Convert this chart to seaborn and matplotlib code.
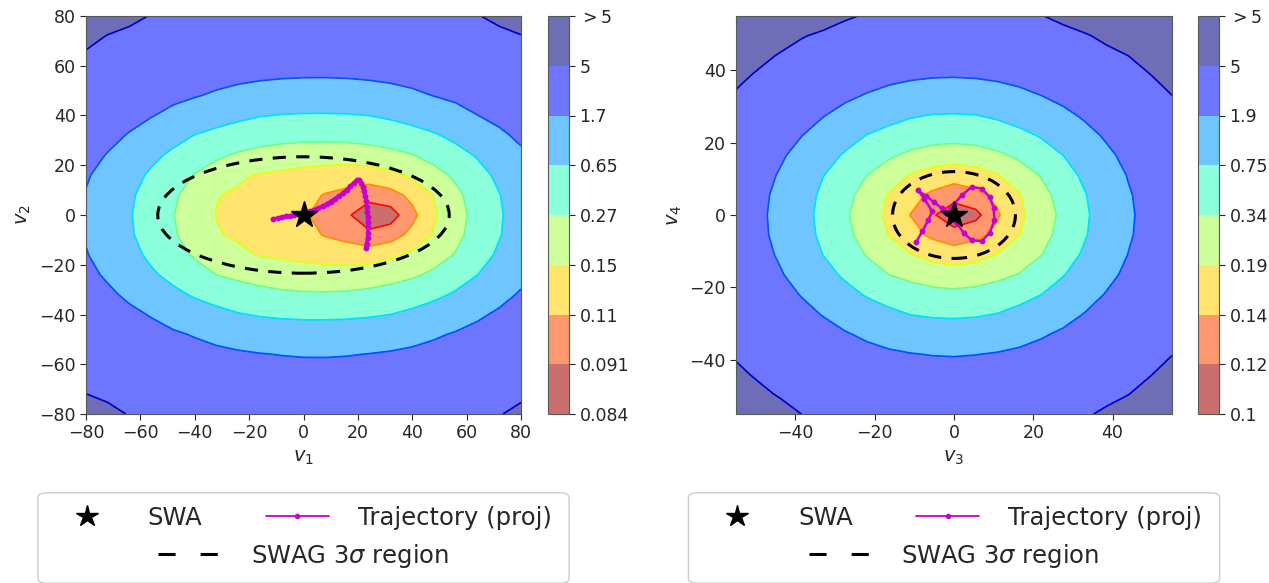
import matplotlib
matplotlib.use("Agg")
import matplotlib.pyplot as plt
import numpy as np
import seaborn as sns
from matplotlib.lines import Line2D
from matplotlib.patches import Ellipse, FancyBboxPatch
from matplotlib.transforms import Bbox

# ---- panel 1 (v1, v2) ----
cbar_labels1 = ["0.084", "0.091", "0.11", "0.15", "0.27", "0.65", "1.7", "5", "$>5$"]
# contour boundaries, inner -> outer (one per colour step)
bound1_cx = [27, 22, 8, 6.4, 5.2, 5, 4]
bound1_cy = [-0.5, 0, 0.3, -0.9, -0.7, -1, -2]
bound1_ax = [10, 20.5, 41.8, 54, 68.3, 87, 124]
bound1_ay = [8, 13.5, 21, 30.3, 41.8, 56, 95]
bound1_pw = [1.2, 2, 2.2, 2.3, 2.2, 2, 2]
traj1_x = [-11.2, -9.5, -8, -6.5, -5, -3.5, -2, -0.5, 1, 2.5, 4, 5.5, 7, 8.5, 10,
           11.5, 13, 14.5, 16, 17.2, 18.5, 19.5, 20.5, 21.3, 21.9, 22.4, 22.8,
           23.1, 23.3, 23.5, 23.6, 23.7, 23.8, 23.8, 23.6, 23.2, 22.9]
traj1_y = [-1.6, -1.3, -1.0, -0.6, -0.3, 0.0, 0.3, 0.6, 1.0, 1.5, 2.1, 2.7, 3.5, 4.4, 5.4,
           6.5, 7.6, 8.8, 10.2, 11.6, 12.9, 13.9, 14.0, 12.9, 11.3, 9.5, 7.6,
           5.5, 3.4, 1.3, -0.8, -2.9, -5.0, -7.2, -9.4, -11.6, -13.2]
swag1 = (0, 0, 53.6, 23.4)  # centre x, centre y, half-width, half-height
lim1 = 80
ticks1 = [-80, -60, -40, -20, 0, 20, 40, 60, 80]

# ---- panel 2 (v3, v4) ----
cbar_labels2 = ["0.1", "0.12", "0.14", "0.19", "0.34", "0.75", "1.9", "5", "$>5$"]
bound2_cx = [1.2, 0.3, 0, -0.2, -0.7, -0.7, -1]
bound2_cy = [0, 0, 0.35, -0.5, -0.35, -0.5, -3]
bound2_ax = [6.1, 11.5, 18.5, 26.4, 35, 46.2, 69]
bound2_ay = [4.1, 9.7, 13.8, 20.3, 28.5, 38.5, 62]
bound2_pw = [1.2, 2, 2, 2, 2, 2, 2]
traj2_x = [-9.5, -8.0, -6.5, -5.5, -7.5, -9.1, -7.0, -5.0, -3.0, -1.0, 0.5, 2.5, 4.5,
           7.0, 9.0, 10.2, 10.0, 9.0, 7.0, 4.5, 2.0, 0.0, -2.0]
traj2_y = [-7.5, -4.5, -1.5, 1.0, 4.5, 6.8, 5.2, 3.5, 1.8, 0.0, -2.0, -5.0, -7.0,
           -7.2, -5.0, -1.5, 2.0, 5.0, 7.3, 7.8, 5.5, 3.0, 0.5]
swag2 = (0, 0, 15.5, 12)
lim2 = 55
ticks2 = [-40, -20, 0, 20, 40]

W, H = 1269, 583
# jet colours, low loss = red, high loss = navy
band_colors = [plt.cm.jet(v) for v in np.linspace(0.967, 0, 8)]
line_colors = [plt.cm.jet(v) for v in np.linspace(0.898, 0.07, 7)]
MAG = "#c800c8"

sns.set_theme(style="ticks")
plt.rcParams["font.family"] = ["DejaVu Sans"]
plt.rcParams["mathtext.fontset"] = "dejavusans"


def level_field(lim, cx, cy, sx, sy, pw, n=21):
    xs = np.linspace(-lim, lim, n)
    X, Y = np.meshgrid(xs, xs)
    R = np.array([(np.abs((X - a) / c) ** p + np.abs((Y - b) / d) ** p) ** (1 / p)
                  for a, b, c, d, p in zip(cx, cy, sx, sy, pw)])
    R = np.minimum.accumulate(R, axis=0)
    h = np.where(R[0] < 1, R[0], 0.0)
    for k in range(len(R) - 1):
        m = (R[k] >= 1) & (R[k + 1] < 1)
        h = np.where(m, (k + 1) + (R[k] - 1) / np.maximum(R[k] - R[k + 1], 1e-9), h)
    m = R[-1] >= 1
    h = np.where(m, len(R) + np.minimum((R[-1] - 1) * 4, 0.99), h)
    return xs, h


def draw_panel(ax, cax, lim, ticks, bounds, traj, swag, cbar_labels, xl, yl, traj_lw):
    xs, h = level_field(lim, *bounds)
    cf = ax.contourf(xs, xs, h, levels=np.arange(9), colors=band_colors, alpha=0.57)
    ax.contour(xs, xs, h, levels=np.arange(1, 8), colors=line_colors, linewidths=1.2)
    ax.add_patch(Ellipse((swag[0], swag[1]), 2 * swag[2], 2 * swag[3], fill=False,
                         ec="black", lw=2.2, ls=(0, (4.3, 3.4)), zorder=4))
    ax.plot(traj[0], traj[1], color=MAG, lw=traj_lw, marker="o", ms=3.2, zorder=5)
    ax.plot(0, 0, marker="*", color="black", ms=20, ls="none", zorder=6)
    ax.set_xlim(-lim, lim)
    ax.set_ylim(-lim, lim)
    ax.set_xticks(ticks)
    ax.set_yticks(ticks)
    ax.tick_params(labelsize=12.5, length=4, width=0.8)
    ax.set_xlabel(xl, fontsize=14)
    ax.set_ylabel(yl, fontsize=14)
    for s in ax.spines.values():
        s.set_linewidth(0.8)
        s.set_color("0.35")
    cb = plt.colorbar(cf, cax=cax, ticks=np.arange(9))
    cb.ax.set_yticklabels(cbar_labels)
    cb.ax.tick_params(labelsize=12.5, length=4, width=0.8)
    cb.outline.set_edgecolor("0.35")
    cb.outline.set_linewidth(0.8)


fig = plt.figure(figsize=(W / 100, H / 100), dpi=100)
ax1 = fig.add_axes([86 / W, 1 - 414 / H, 435 / W, 398 / H])
cax1 = fig.add_axes([548 / W, 1 - 414 / H, 21 / W, 398 / H])
ax2 = fig.add_axes([736 / W, 1 - 414 / H, 436 / W, 398 / H])
cax2 = fig.add_axes([1198 / W, 1 - 414 / H, 21 / W, 398 / H])

draw_panel(ax1, cax1, lim1, ticks1,
           (bound1_cx, bound1_cy, bound1_ax, bound1_ay, bound1_pw),
           (traj1_x, traj1_y), swag1, cbar_labels1, "$v_1$", "$v_2$", 2.6)
draw_panel(ax2, cax2, lim2, ticks2,
           (bound2_cx, bound2_cy, bound2_ax, bound2_ay, bound2_pw),
           (traj2_x, traj2_y), swag2, cbar_labels2, "$v_3$", "$v_4$", 1.8)

star_h = Line2D([], [], marker="*", color="black", ms=16, ls="none")
traj_h = Line2D([], [], color=MAG, lw=1.3, marker="o", ms=3)
dash_h = Line2D([], [], color="black", lw=2.2, ls=(0, (5.6, 8.2)))

legs = []
for cx in (303.5 / W, 954 / W):
    la = fig.legend([star_h, traj_h], ["SWA", "Trajectory (proj)"], ncol=2, loc="center",
                    bbox_to_anchor=(cx, 1 - 518 / H), frameon=False, fontsize=17.5,
                    handlelength=2.6, handletextpad=1.2, columnspacing=2.6, numpoints=1)
    lb = fig.legend([dash_h], [r"SWAG 3$\sigma$ region"], loc="center",
                    bbox_to_anchor=(cx, 1 - 556 / H), frameon=False, fontsize=17.5,
                    handlelength=2.6, handletextpad=1.2)
    legs.append((la, lb))

fig.canvas.draw()
r = fig.canvas.get_renderer()
for la, lb in legs:
    bb = Bbox.union([la.get_window_extent(r), lb.get_window_extent(r)])
    bb = bb.transformed(fig.transFigure.inverted())
    frame = FancyBboxPatch((bb.x0, bb.y0), bb.width, bb.height,
                           boxstyle="round,pad=0.006,rounding_size=0.008",
                           transform=fig.transFigure, fc="white", ec="0.8", lw=1, zorder=1)
    fig.add_artist(frame)

fig.savefig("out.png", dpi=100)
